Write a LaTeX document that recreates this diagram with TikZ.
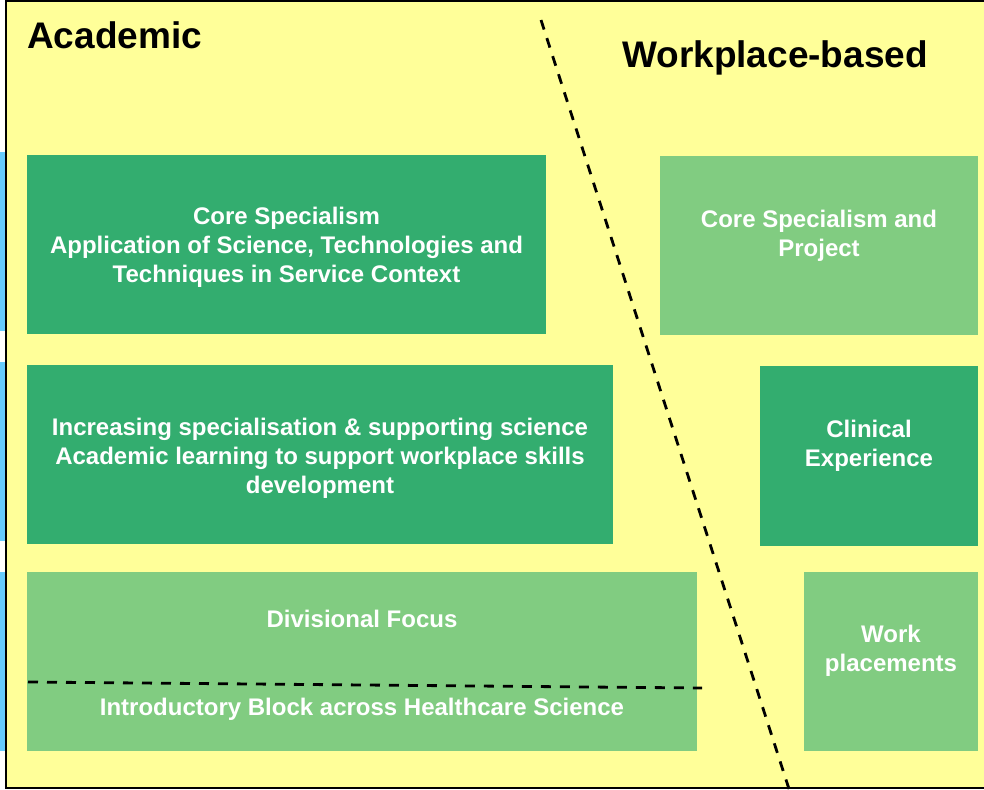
\documentclass[tikz,border=0pt]{standalone}
\usepackage{fontspec}
\setmainfont{Liberation Sans}
\usetikzlibrary{positioning}

\definecolor{padyellow}{HTML}{FFFF99}
\definecolor{darkgreen}{HTML}{33AD6F}
\definecolor{lightgreen}{HTML}{81CC81}
\definecolor{sideblue}{HTML}{66CCFF}

\tikzset{
  block/.style={fill=#1, draw=none, inner sep=0pt, text=white, align=center,
    font=\fontsize{24}{29}\selectfont\bfseries},
  heading/.style={anchor=base west, inner sep=0pt, font=\fontsize{37}{40}\selectfont\bfseries},
  divide/.style={dashed, dash pattern=on 10pt off 9pt, line width=2.8pt},
}

\begin{document}
\begin{tikzpicture}[x=1pt,y=-1pt]
\useasboundingbox (0,0) rectangle (984,789);
\clip (0,0) rectangle (984,789);

% strips at the left edge
\fill[sideblue] (0,152) rectangle (5,331);
\fill[sideblue] (0,362) rectangle (5,541);
\fill[sideblue] (0,572) rectangle (5,751);

% background panel
\draw[fill=padyellow, line width=2pt] (5.5,1.5) rectangle (995,787.5);

% headings
\node[heading] (acad) at (27,49) {Academic};
\node[heading] (work) at (622,68) {Workplace-based};

% academic blocks
\node[block=darkgreen, minimum width=519pt, minimum height=179pt] (core) at (286.5,244.5) {};
\node[block=darkgreen] (coretxt) at (286.5,247.5)
  {Core Specialism\\Application of Science, Technologies and\\Techniques in Service Context};
\node[block=darkgreen, minimum width=586pt, minimum height=179pt] (incr) at (320,454.5) {};
\node[block=darkgreen] (incrtxt) at (320,458.5)
  {Increasing specialisation \& supporting science\\Academic learning to support workplace skills\\development};
\node[block=lightgreen, minimum width=670pt, minimum height=179pt] (div) at (362,661.5) {};
\node[block=lightgreen] (divtxt) at (362,619) {Divisional Focus};
\node[block=lightgreen] (intro) at (362,709) {Introductory Block across Healthcare Science};

% workplace blocks
\node[block=lightgreen, minimum width=318pt, minimum height=179pt] (proj) at (819,245.5) {};
\node[block=lightgreen] (projtxt) at (819,235.5) {Core Specialism and\\Project};
\node[block=darkgreen, minimum width=218pt, minimum height=180pt] (clin) at (869,456) {};
\node[block=darkgreen] (clintxt) at (869,445.5) {Clinical\\Experience};
\node[block=lightgreen, minimum width=174pt, minimum height=179pt] (place) at (891,661.5) {};
\node[block=lightgreen] (placetxt) at (891,650.5) {Work\\placements};

% dividing lines
\coordinate (split top) at (541,20);
\coordinate (split bot) at (789,789);
\draw[divide] (split top) -- (split bot);

\coordinate (intro l) at (28,682);
\coordinate (intro r) at (702,688);
\draw[divide] (intro l) -- (intro r);

\end{tikzpicture}
\end{document}
